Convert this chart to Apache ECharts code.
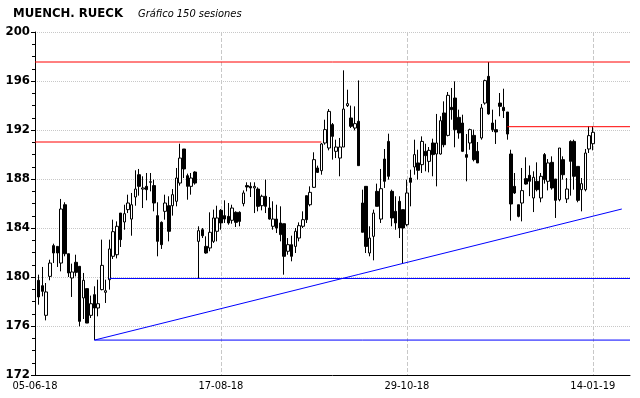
<!DOCTYPE html>
<html><head><meta charset="utf-8">
<script src="https://cdn.jsdelivr.net/npm/echarts@6/dist/echarts.min.js"></script>
<style>html,body{margin:0;padding:0;background:#fff}#c{width:640px;height:398px}</style>
</head><body><div id="c"></div><script>
// session numbers 1..150
const opens=[179.73,179.29,176.87,180.05,182.56,182.50,181.14,185.90,181.90,179.92,181.20,180.87,178.29,179.05,176.87,178.56,177.47,178.97,178.75,179.78,
181.69,181.82,185.22,184.49,185.50,184.73,186.53,188.35,187.18,187.40,187.73,187.46,185.01,184.46,185.36,185.82,185.82,186.18,187.67,190.45,
188.27,187.40,188.57,182.91,183.86,182.50,182.37,182.91,183.73,185.44,185.01,184.95,184.63,185.28,185.28,185.99,187.46,187.40,187.27,187.18,
185.82,186.59,185.63,184.14,184.73,184.41,184.35,182.10,182.64,182.50,183.18,184.14,186.64,185.90,187.32,188.90,188.68,190.94,190.53,192.44,
190.26,189.71,190.61,193.99,192.98,192.16,192.71,186.04,187.40,181.96,183.32,186.99,184.73,189.63,191.07,186.99,185.36,186.18,185.50,184.27,
188.08,188.98,189.31,189.17,190.26,189.44,190.94,190.04,190.04,193.39,191.56,193.85,194.61,193.03,192.57,189.99,190.94,191.56,190.26,191.35,
194.20,196.38,192.57,192.03,194.20,193.85,193.47,190.04,187.40,185.90,186.04,188.03,188.30,186.45,187.81,186.45,189.99,187.81,189.36,188.00,
186.31,189.58,186.37,191.07,191.07,189.03,187.13,187.13,190.45,190.88];
const closes=[178.37,178.83,178.78,181.14,181.96,181.96,185.55,181.90,180.33,180.41,180.38,176.38,179.73,176.24,177.82,177.47,177.82,180.95,178.88,182.29,
183.70,184.14,183.05,185.17,186.04,185.90,187.18,187.40,187.27,187.13,187.78,186.04,182.91,182.64,186.04,183.73,186.72,188.08,189.71,188.82,
187.40,188.08,187.67,183.78,183.37,181.96,183.65,184.82,184.82,184.41,184.73,184.41,185.63,184.46,184.54,186.86,187.35,187.27,187.40,185.77,
186.59,185.77,184.73,184.73,184.00,183.46,181.69,182.64,181.69,183.73,184.19,184.68,184.68,186.91,189.58,188.54,190.86,192.03,193.52,191.48,
190.61,190.61,193.71,194.15,192.30,192.52,189.09,183.65,182.50,183.18,185.22,185.77,187.21,187.81,188.22,184.82,184.41,184.00,184.00,186.86,
187.73,189.99,188.71,191.07,189.90,190.34,189.99,190.94,192.76,190.80,194.83,193.66,192.03,191.76,190.26,189.77,192.03,189.58,189.31,193.80,
196.03,193.31,192.03,191.84,193.93,193.58,191.67,185.96,186.86,184.95,187.05,187.59,187.81,188.14,187.13,188.22,187.95,189.31,187.27,186.26,
190.53,188.35,187.18,189.44,188.22,186.26,187.62,190.12,191.54,191.81];
const lows=[177.74,178.42,176.46,179.73,181.14,180.82,180.46,181.69,180.00,178.37,180.05,175.97,176.57,176.24,176.65,174.85,176.79,178.91,177.88,178.97,
181.47,181.52,182.45,183.86,185.22,183.37,185.82,186.64,185.63,186.26,186.99,185.36,181.69,182.29,184.68,182.91,185.01,185.77,187.46,188.08,
186.31,186.72,187.54,179.85,183.18,181.90,182.10,182.78,182.91,183.86,184.41,184.27,184.35,184.08,184.14,185.77,186.99,186.53,185.22,185.36,
185.44,185.22,184.68,183.86,183.59,182.91,180.19,181.82,181.28,181.96,182.91,184.00,184.41,185.77,187.27,188.49,188.35,190.80,190.34,189.58,
189.71,188.22,190.61,193.88,192.16,191.97,189.09,183.65,181.96,181.69,181.36,185.77,184.41,187.27,187.95,184.14,183.86,183.18,181.14,184.14,
185.77,188.35,187.95,188.49,188.63,188.54,188.22,187.40,189.99,190.59,191.48,192.84,190.59,191.29,190.20,187.81,190.39,189.44,189.31,191.21,
194.07,193.25,191.84,190.86,193.12,192.98,191.21,184.60,186.78,184.87,184.54,187.54,186.60,185.30,186.99,186.10,187.62,187.07,187.13,184.82,
186.18,187.95,186.04,186.64,187.13,186.10,185.36,186.99,190.12,190.34];
const highs=[180.19,180.82,179.51,181.41,182.72,182.50,186.37,186.10,181.90,181.09,181.82,180.87,180.33,179.05,178.48,179.24,179.78,183.05,179.78,183.05,
184.68,184.54,185.22,185.90,186.72,186.86,188.71,188.82,188.22,188.49,188.49,187.95,186.10,184.54,186.72,186.59,187.18,188.90,190.88,190.45,
188.44,188.49,188.63,184.14,184.00,183.32,185.28,185.50,185.82,185.55,186.26,186.04,185.90,185.36,185.36,187.07,187.73,187.73,187.73,187.32,
186.72,187.95,186.53,186.18,185.90,185.77,184.35,183.18,183.37,184.00,184.46,185.36,186.64,187.40,190.18,189.09,190.94,192.84,193.71,192.57,
191.21,191.35,196.87,195.29,193.99,193.93,196.05,187.13,187.40,184.14,185.50,187.62,188.82,190.45,191.70,187.13,186.59,186.59,185.50,187.95,
188.76,191.21,190.39,191.48,190.88,190.61,191.29,193.31,193.12,194.34,195.10,195.43,195.97,193.66,193.25,191.67,192.11,192.03,191.02,194.12,
196.11,197.55,193.66,192.84,195.02,195.37,193.47,190.39,188.49,185.90,188.90,189.77,189.10,188.63,189.36,188.49,190.12,189.63,189.85,188.00,
190.53,189.85,188.08,191.16,191.21,189.03,188.08,190.45,192.30,192.30];
const labelSessions=[0,50,100,150];
const labelTexts=['05-06-18','17-08-18','29-10-18','14-01-19'];
// horizontal levels: [fromSession, toSession, price]
const redLevels=[[0,160,197.55],[0,77,191.02],[127,160,192.27]];
const blueLevels=[[20,160,179.88],[16,160,174.85]];
const trendLine=[[16,174.85],[157.8,185.55]];

const candleData=opens.map((o,i)=>[i+1,o,closes[i],lows[i],highs[i]]);
const labelMap={};labelSessions.forEach((s,i)=>labelMap[s]=labelTexts[i]);
const FONT='"DejaVu Sans Condensed","DejaVu Sans",sans-serif';
const lineSeries=[];
redLevels.forEach(l=>lineSeries.push({type:'line',data:[[l[0],l[2]],[l[1],l[2]]],showSymbol:false,silent:true,z:5,lineStyle:{color:'#ff0000',width:1}}));
blueLevels.forEach(l=>lineSeries.push({type:'line',data:[[l[0],l[2]],[l[1],l[2]]],showSymbol:false,silent:true,z:5,lineStyle:{color:'#0000ff',width:1}}));
lineSeries.push({type:'line',data:trendLine,showSymbol:false,silent:true,z:5,lineStyle:{color:'#0000ff',width:1}});

const chart=echarts.init(document.getElementById('c'),null,{renderer:'canvas'});
chart.setOption({
  animation:false,
  backgroundColor:'#fff',
  title:[
    {text:'MUENCH. RUECK',left:8,top:2,textStyle:{fontFamily:FONT,fontSize:13,fontWeight:'bold',color:'#000'}},
    {text:'Gráfico 150 sesiones',left:133,top:4,textStyle:{fontFamily:FONT,fontSize:11,fontWeight:'normal',fontStyle:'italic',color:'#000'}}
  ],
  grid:{left:35,right:10,top:32,bottom:23},
  xAxis:{type:'value',min:0,max:160,interval:50,
    axisLine:{lineStyle:{color:'#000',width:1}},
    axisTick:{show:false},
    axisLabel:{showMaxLabel:false,formatter:v=>labelMap[v]||'',fontFamily:FONT,fontSize:11,color:'#000',margin:6},
    splitLine:{show:true,showMinLine:false,showMaxLine:false,lineStyle:{color:'#c8c8c8',type:'dashed',width:1}}
  },
  yAxis:{type:'value',min:172,max:200,interval:4,
    axisLine:{show:true,lineStyle:{color:'#000',width:1}},
    axisTick:{show:true,length:4,lineStyle:{color:'#000'}},
    minorTick:{show:true,splitNumber:4,length:3,lineStyle:{color:'#000'}},
    axisLabel:{fontFamily:FONT,fontSize:13,fontWeight:'bold',color:'#000',margin:5},
    splitLine:{show:true,lineStyle:{color:'#c8c8c8',type:'dotted',width:1}}
  },
  series:[{type:'candlestick',data:candleData,encode:{x:0,y:[1,2,3,4]},barWidth:3,z:3,
    itemStyle:{color:'#ffffff',color0:'#000000',borderColor:'#000000',borderColor0:'#000000',borderWidth:1}
  }].concat(lineSeries)
});
</script></body></html>
